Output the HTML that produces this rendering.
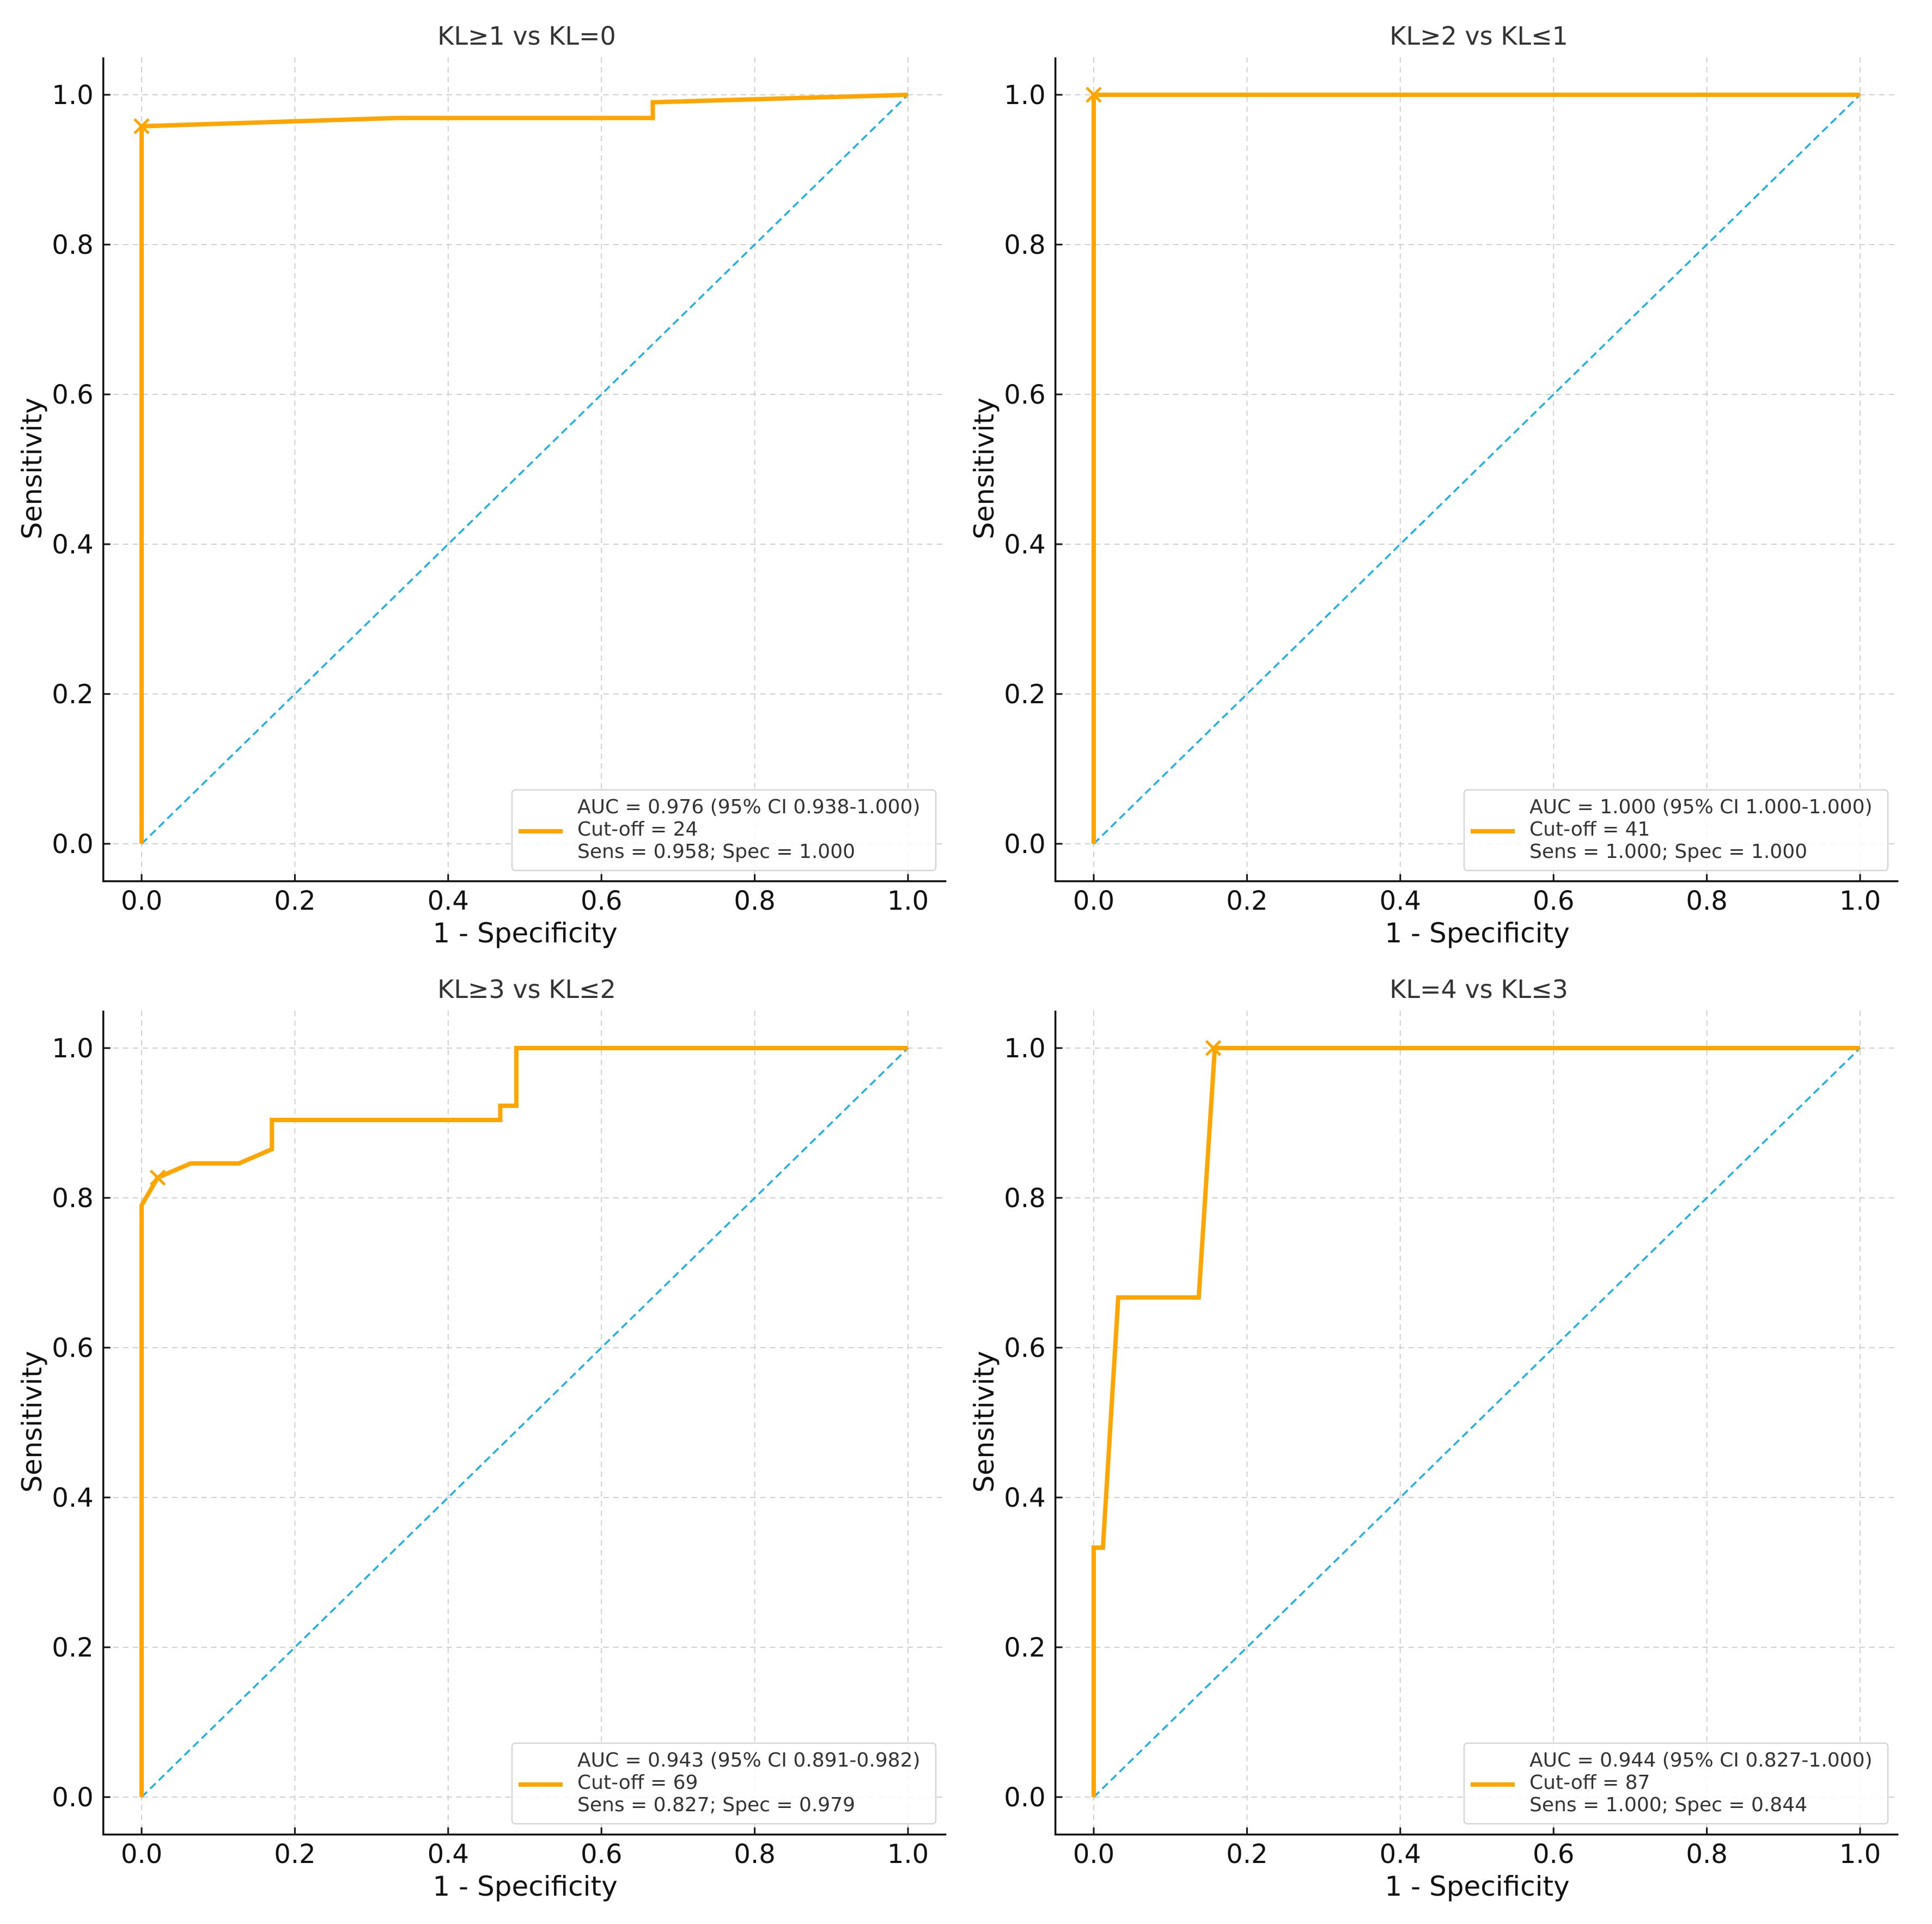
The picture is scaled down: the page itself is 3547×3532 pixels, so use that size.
<!DOCTYPE html>
<html><head><meta charset="utf-8"><style>
html,body{margin:0;padding:0;background:#fff;}
svg{display:block;font-family:"DejaVu Sans","Liberation Sans",sans-serif;}
</style></head>
<body>
<svg id="fig" width="3547" height="3532" viewBox="0 0 3547 3532" xmlns="http://www.w3.org/2000/svg"></svg>
<script>
const titles = ["KL\u22651 vs KL=0","KL\u22652 vs KL\u22641","KL\u22653 vs KL\u22642","KL=4 vs KL\u22643"];
const fprA = [0,0,0.333,0.667,0.667,1];
const tprA = [0,0.958,0.969,0.969,0.99,1];
const fprB = [0,0,1];
const tprB = [0,1,1];
const fprC = [0,0,0.021,0.064,0.127,0.170,0.170,0.468,0.468,0.489,0.489,1];
const tprC = [0,0.79,0.827,0.846,0.846,0.865,0.904,0.904,0.923,0.923,1,1];
const fprD = [0,0,0.012,0.032,0.137,0.158,1];
const tprD = [0,0.333,0.333,0.667,0.667,1,1];
const cutX = [0,0,0.021,0.156];
const cutY = [0.958,1,0.827,1];
const aucs = ["AUC = 0.976 (95% CI 0.938-1.000)","AUC = 1.000 (95% CI 1.000-1.000)","AUC = 0.943 (95% CI 0.891-0.982)","AUC = 0.944 (95% CI 0.827-1.000)"];
const cutoffs = ["Cut-off = 24","Cut-off = 41","Cut-off = 69","Cut-off = 87"];
const sensSpec = ["Sens = 0.958; Spec = 1.000","Sens = 1.000; Spec = 1.000","Sens = 0.827; Spec = 0.979","Sens = 1.000; Spec = 0.844"];
const ticks = [0,0.2,0.4,0.6,0.8,1.0];
const tickLabels = ["0.0","0.2","0.4","0.6","0.8","1.0"];

const NS="http://www.w3.org/2000/svg";
const svg=document.getElementById('fig');
const fprs=[fprA,fprB,fprC,fprD], tprs=[tprA,tprB,tprC,tprD];
const offs=[[0,0],[1748,0],[0,1750],[1748,1750]];
function mk(tag,attrs,parent){const e=document.createElementNS(NS,tag);for(const k in attrs)e.setAttribute(k,attrs[k]);parent.appendChild(e);return e;}

for(let p=0;p<4;p++){
  const ox=offs[p][0], oy=offs[p][1];
  const X=v=>ox+260+v*1407, Y=v=>oy+1549-v*1375;
  const g=mk('g',{},svg);
  
  
  for(let i=0;i<ticks.length;i++){
    const gx=mk('line',{x1:X(ticks[i]),x2:X(ticks[i]),y1:Y(1.05),y2:Y(-0.05),stroke:'#d0d0d0','stroke-width':2,'stroke-dasharray':'10,8'},g);
    
    
    const gy=mk('line',{x1:X(-0.05),x2:X(1.05),y1:Y(ticks[i]),y2:Y(ticks[i]),stroke:'#d0d0d0','stroke-width':2,'stroke-dasharray':'10,8'},g);
    
    
  }
  const d=mk('line',{x1:X(0),y1:Y(0),x2:X(1),y2:Y(1),stroke:'#1eb0e8','stroke-width':3.5,'stroke-dasharray':'14,8'},g);
  
  
  const pts=fprs[p].map((v,i)=>X(v)+','+Y(tprs[p][i])).join(' ');
  const pl=mk('polyline',{points:pts,fill:'none',stroke:'#ffa500','stroke-width':8,'stroke-linejoin':'miter'},g);
  
  
  const cx=X(cutX[p]), cy=Y(cutY[p]), s=13;
  const m=mk('path',{d:`M${cx-s},${cy-s}L${cx+s},${cy+s}M${cx-s},${cy+s}L${cx+s},${cy-s}`,stroke:'#ffa500','stroke-width':5,fill:'none'},g);
  
  
  const sp=mk('path',{d:`M${X(-0.05)},${Y(1.05)}L${X(-0.05)},${Y(-0.05)}L${X(1.05)},${Y(-0.05)}`,stroke:'#111','stroke-width':3.5,fill:'none'},g);
  
  
  for(let i=0;i<ticks.length;i++){
    mk('line',{x1:X(ticks[i]),x2:X(ticks[i]),y1:Y(-0.05),y2:Y(-0.05)-13,stroke:'#111','stroke-width':3},g);
    mk('line',{x1:X(-0.05),x2:X(-0.05)+13,y1:Y(ticks[i]),y2:Y(ticks[i]),stroke:'#111','stroke-width':3},g);
    const tx=mk('text',{x:X(ticks[i]),y:Y(-0.05)+52,'text-anchor':'middle','font-size':48,fill:'#111'},g);
    tx.textContent=tickLabels[i];
    
    
    const ty=mk('text',{x:X(-0.05)-18,y:Y(ticks[i])+17,'text-anchor':'end','font-size':48,fill:'#111'},g);
    ty.textContent=tickLabels[i];
    
    
  }
  const t=mk('text',{x:ox+967,y:oy+82,'text-anchor':'middle','font-size':46,fill:'#333'},g);
  t.textContent=titles[p];
  
  
  const xl=mk('text',{x:ox+964,y:oy+1730,'text-anchor':'middle','font-size':50,fill:'#111'},g);
  xl.textContent='1 - Specificity';
  
  
  const yl=mk('text',{x:0,y:0,'text-anchor':'middle','font-size':50,fill:'#111',transform:`translate(${ox+76},${oy+860}) rotate(-90)`},g);
  yl.textContent='Sensitivity';
  
  
  const lg=mk('g',{},g);
  
  
  mk('rect',{x:ox+940,y:oy+1450,width:778,height:148,rx:6,fill:'#fff','fill-opacity':0.85,stroke:'#d6d6d6','stroke-width':2.5},lg);
  const ll=mk('line',{x1:ox+952,x2:ox+1033,y1:oy+1526,y2:oy+1526,stroke:'#ffa500','stroke-width':8},lg);
  
  
  const lines=[aucs[p],cutoffs[p],sensSpec[p]];
  for(let k=0;k<3;k++){
    const lt=mk('text',{x:ox+1060,y:oy+1493+k*41,'font-size':36,fill:'#333'},lg);
    lt.textContent=lines[k];
    
    
  }
}
</script>
</body></html>
